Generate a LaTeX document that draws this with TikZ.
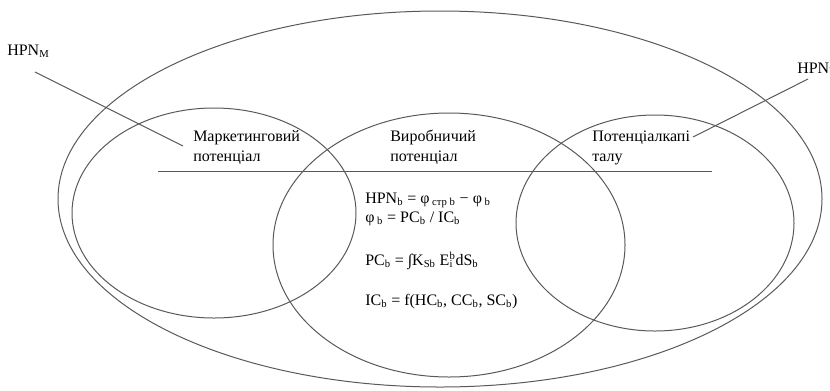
\documentclass[tikz,border=0pt]{standalone}
\usepackage{fontspec}
\setmainfont{Liberation Serif}
\usetikzlibrary{positioning}

\begin{document}
\begin{tikzpicture}[
    x=0.75pt, y=-0.75pt,
    curve/.style={draw=black!65, line width=0.75pt},
    txt/.style={anchor=base west, inner sep=0pt, font=\fontsize{12}{14}\selectfont},
    formula/.style={anchor=base west, inner sep=0pt, font=\fontsize{12}{14}\selectfont}
]
    \useasboundingbox (0,0) rectangle (830,390);

    % outer field and the three potentials
    \draw[curve] (440,199) ellipse [x radius=382, y radius=188];
    \draw[curve] (214,213) ellipse [x radius=142, y radius=105];
    \draw[curve] (449,245) ellipse [x radius=176, y radius=132];
    \draw[curve] (655,223) ellipse [x radius=139, y radius=108];

    \coordinate (rule-l) at (158,171);
    \coordinate (rule-r) at (712,171);
    \draw[curve] (rule-l) -- (rule-r);

    \node[txt] (mkt1) at (193,141) {Маркетинговий};
    \node[txt] (mkt2) at (193,161) {потенціал};
    \node[txt] (prod1) at (390,141) {Виробничий};
    \node[txt] (prod2) at (390,161) {потенціал};
    \node[txt] (cap1) at (592,141) {Потенціалкапі};
    \node[txt] (cap2) at (592,161) {талу};

    \node[formula] (hpn) at (365,203) {HPN\textsubscript{b} = φ\textsubscript{ стр b} − φ\textsubscript{ b}};
    \node[formula] (phi) at (365,222) {φ\textsubscript{ b} = PC\textsubscript{b} / IC\textsubscript{b}};
    \node[formula] (pc) at (365,265) {PC\textsubscript{b} = ∫K\textsubscript{Sb} E\rlap{\textsubscript{i}}\textsuperscript{b}dS\textsubscript{b}};
    \node[formula] (ic) at (365,305) {IC\textsubscript{b} = f(HC\textsubscript{b}, CC\textsubscript{b}, SC\textsubscript{b})};

    % pointers of the indicators
    \node[txt] (hpnm) at (7,55) {HPN\textsubscript{M}};
    \node[txt] (hpnb) at (797,73) {HPN\textsubscript{b}};
    \coordinate (m-from) at (35,72);
    \coordinate (m-to) at (183,146);
    \coordinate (b-from) at (808,79);
    \coordinate (b-to) at (693,137);
    \draw[curve] (m-from) -- (m-to);
    \draw[curve] (b-from) -- (b-to);
\end{tikzpicture}
\end{document}
